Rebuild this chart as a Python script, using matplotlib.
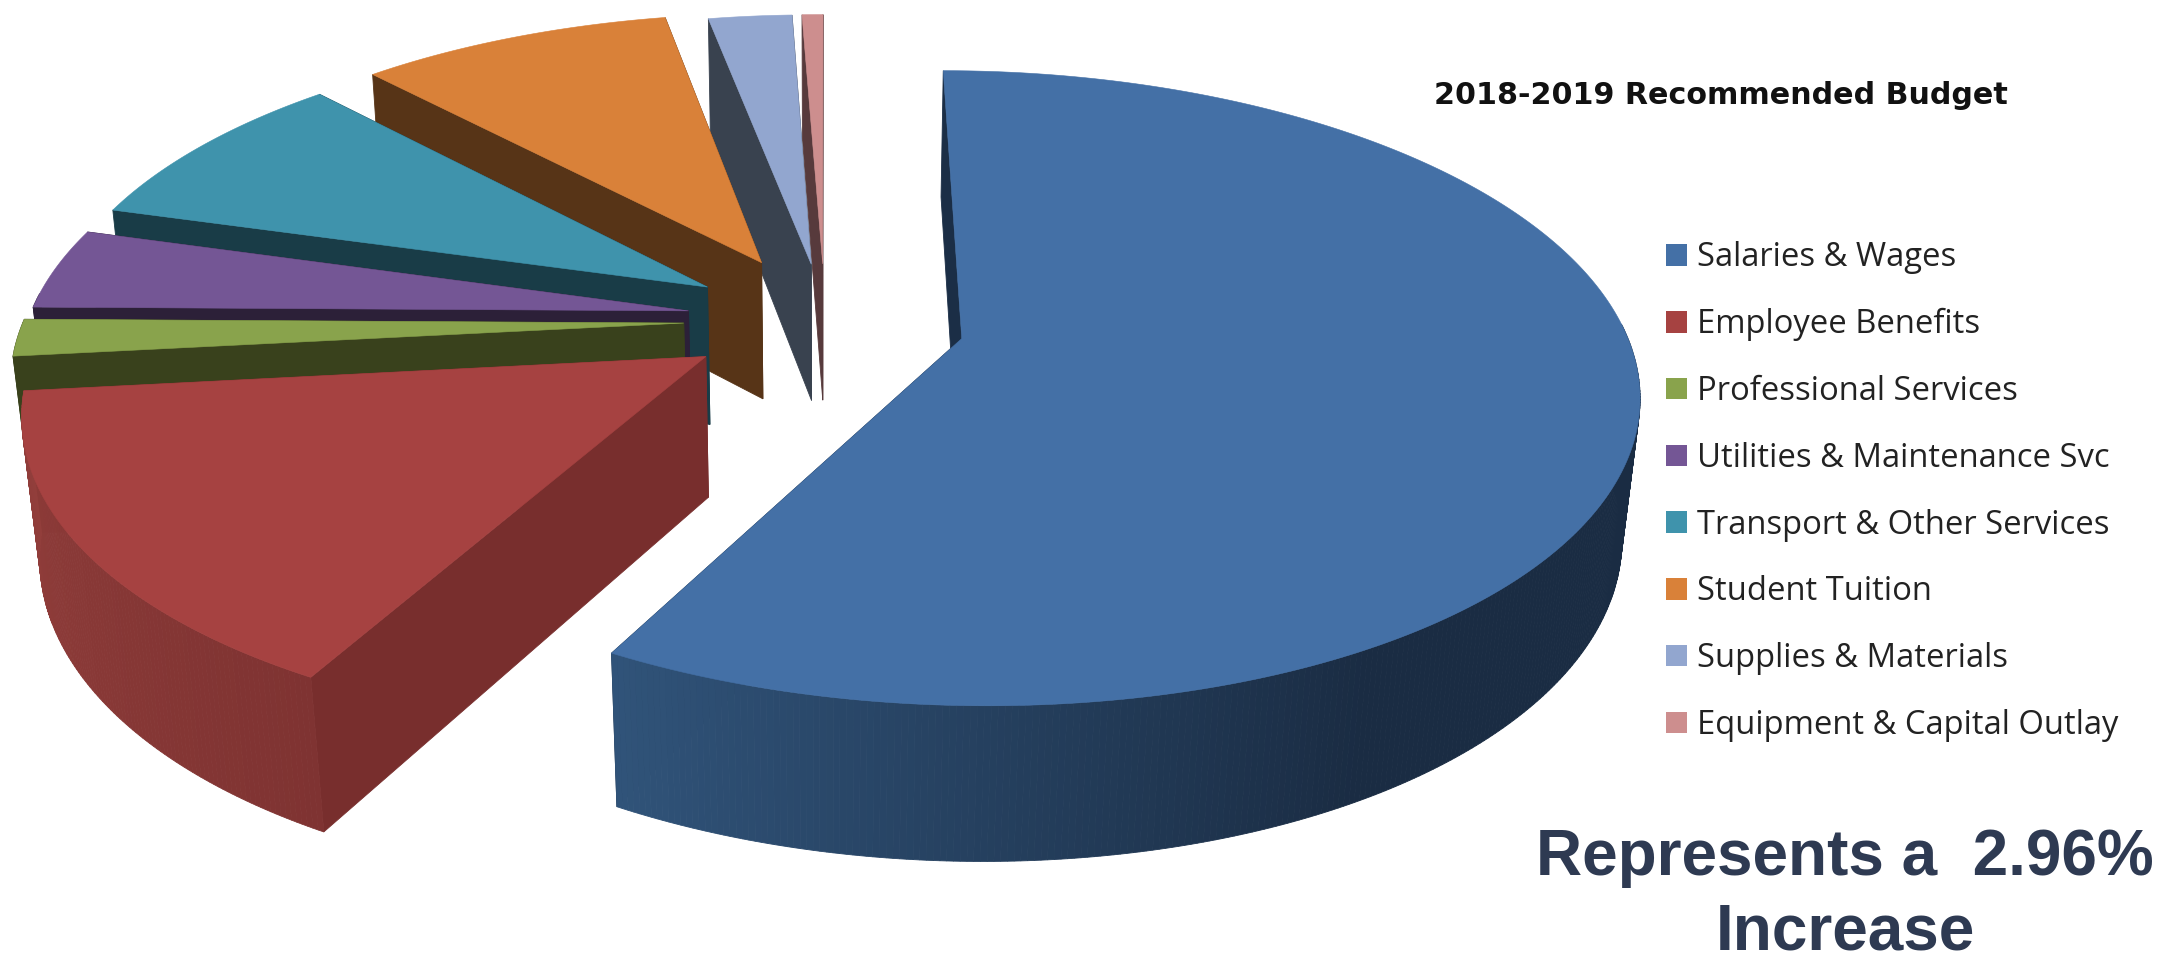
import numpy as np
import matplotlib
matplotlib.use("Agg")
import matplotlib.pyplot as plt
from matplotlib.patches import Patch
from matplotlib.colors import to_rgb

# Budget shares, percent
categories = ["Salaries & Wages", "Employee Benefits", "Professional Services",
              "Utilities & Maintenance Svc", "Transport & Other Services",
              "Student Tuition", "Supplies & Materials", "Equipment & Capital Outlay"]
shares = [58.0, 15.3, 1.9, 4.2, 8.6, 9.0, 2.4, 0.6]

title = "2018-2019 Recommended Budget"
note_lines = ["Represents a  2.96%", "Increase"]

# Slice styling
top_colors = ["#4470a6", "#a64241", "#89a34c", "#745695", "#3f93ac", "#d98139", "#92a6cf", "#cd8e8e"]
cut_colors = ["#1b2e46", "#782e2d", "#39411c", "#2c2038", "#193c47", "#573417", "#39424f", "#573a3c"]
wall_low = ["#1a2c43", "#7f3332", "#39411c", "#2c2038", "#193c47", "#573417", "#39424f", "#573a3c"]
wall_high = ["#305379", "#923e3b", "#39411c", "#2c2038", "#193c47", "#573417", "#39424f", "#573a3c"]
explode = [0.214, 0.213, 0.214, 0.21, 0.212, 0.218, 0.19, 0.19]
explode_turn = [2, 0, 0, 0, 0, 0, 0, 0]  # degrees added to each slice's pull-out direction
start_angle = 0.0

# Perspective camera for the tilted pie, in figure pixels
ORIGIN_X, ORIGIN_Y = 825.0, 320.0
SCALE_X, SCALE_Y = 660.0, 304.0
PERSPECTIVE = 0.155
DEPTH = 142.0
DEPTH_SHRINK = 0.022


def project(x, y, z):
    """Map pie-plane coordinates (z=0 top face, z=1 underside) to the screen."""
    d = 1 + PERSPECTIVE * y + DEPTH_SHRINK * z
    return ORIGIN_X + SCALE_X * x / d, ORIGIN_Y + (-SCALE_Y * y + DEPTH * z) / d


def mix(a, b, t):
    a, b = np.array(to_rgb(a)), np.array(to_rgb(b))
    return tuple(a + (b - a) * t)


fig = plt.figure(figsize=(21.78, 9.6), dpi=100)
ax = fig.add_axes([0, 0, 1, 1])
ax.set_xlim(0, 2178)
ax.set_ylim(960, 0)
ax.axis("off")

spans = np.array(shares) / sum(shares) * 360.0
starts = start_angle + np.concatenate(([0.0], np.cumsum(spans)[:-1]))


def draw_slice(i, zorder):
    a0, a1 = starts[i], starts[i] + spans[i]
    mid = np.radians((a0 + a1) / 2 + explode_turn[i])
    cx, cy = explode[i] * np.sin(mid), explode[i] * np.cos(mid)
    th = np.radians(np.linspace(a0, a1, max(int(spans[i] * 2), 3)))
    rx, ry = cx + np.sin(th), cy + np.cos(th)

    # Cut faces running from the centre to each end of the rim
    for k in (0, -1):
        c = cut_colors[i]
        px, py = zip(project(cx, cy, 0), project(rx[k], ry[k], 0),
                     project(rx[k], ry[k], 1), project(cx, cy, 1))
        ax.fill(px, py, fc=c, ec=c, lw=0.6, zorder=zorder)

    # Curved outer wall, only the part that faces the viewer
    for j in range(len(th) - 1):
        if np.cos(th[j]) > 0.05:
            continue
        if i == 0:
            t = np.clip((np.degrees(th[j]) - 150) / 58.0, 0, 1)
        else:
            t = j / (len(th) - 1)
        c = mix(wall_low[i], wall_high[i], t)
        px, py = zip(project(rx[j], ry[j], 0), project(rx[j + 1], ry[j + 1], 0),
                     project(rx[j + 1], ry[j + 1], 1), project(rx[j], ry[j], 1))
        ax.fill(px, py, fc=c, ec=c, lw=0.6, zorder=zorder)

    # Top face
    px, py = project(np.r_[cx, rx], np.r_[cy, ry], 0.0)
    ax.fill(px, py, fc=top_colors[i], ec=top_colors[i], lw=0.4, zorder=zorder + 0.5)


# Painter's order: far slices first, the benefits wedge in front of its neighbours
for z, idx in enumerate([0, 7, 6, 5, 4, 3, 2, 1]):
    draw_slice(idx, 2 + z)

ax.text(1721, 95, title, ha="center", va="center", fontsize=21.7, fontweight="bold",
        family="DejaVu Sans", color="#111111")

handles = [Patch(fc=c, ec="none", label=n) for c, n in zip(top_colors, categories)]
ax.legend(handles=handles, loc="upper left", bbox_to_anchor=(1650 / 2178, 1 - 225 / 960),
          frameon=False, prop={"family": "Open Sans", "size": 23.6},
          labelspacing=1.03, handlelength=0.63, handleheight=0.63, handletextpad=0.3,
          borderpad=0, labelcolor="#222222")

for y, line in zip((858, 933), note_lines):
    ax.text(1845, y, line, ha="center", va="center", fontsize=46, fontweight="bold",
            family="Liberation Sans", color="#2e3a52")

fig.savefig("out.png", dpi=100, facecolor="white")
